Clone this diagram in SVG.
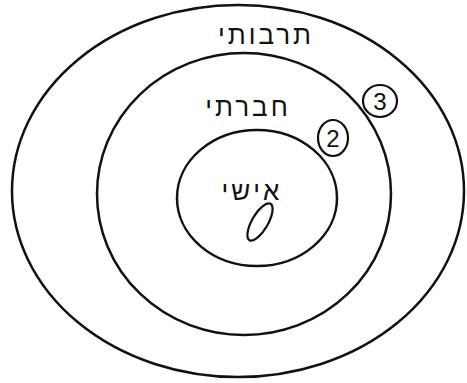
<svg xmlns="http://www.w3.org/2000/svg" width="467" height="383" viewBox="0 0 467 383">
<style>
.ring{fill:none;stroke:#111;stroke-width:2.5}
.lbl{font-family:"Liberation Sans","DejaVu Sans",sans-serif;font-size:26px;fill:#111;text-anchor:middle;letter-spacing:3px}
.num{font-family:"Liberation Sans","DejaVu Sans",sans-serif;font-size:24px;fill:#111;text-anchor:middle}
.badge{fill:none;stroke:#111;stroke-width:2.2}
</style>
<rect width="467" height="383" fill="#fff"/>
<g id="outer">
<ellipse class="ring" cx="238" cy="191" rx="226" ry="186"/>
<text class="lbl" x="266" y="44">תרבותי</text>
</g>
<g id="middle">
<ellipse class="ring" cx="244" cy="194" rx="147" ry="141"/>
<text class="lbl" x="248" y="116">חברתי</text>
</g>
<g id="inner">
<ellipse class="ring" cx="257" cy="198" rx="80" ry="68"/>
<text class="lbl" x="252" y="200">אישי</text>
</g>
<g id="badge1">
<ellipse class="badge" cx="260" cy="222" rx="8" ry="21" transform="rotate(30 260 222)"/>
</g>
<g id="badge2">
<ellipse class="badge" cx="333" cy="138" rx="15" ry="18"/>
<text class="num" x="333" y="147">2</text>
</g>
<g id="badge3">
<ellipse class="badge" cx="380" cy="101" rx="17" ry="16"/>
<text class="num" x="380" y="110">3</text>
</g>
<g id="connectors"/>
</svg>
